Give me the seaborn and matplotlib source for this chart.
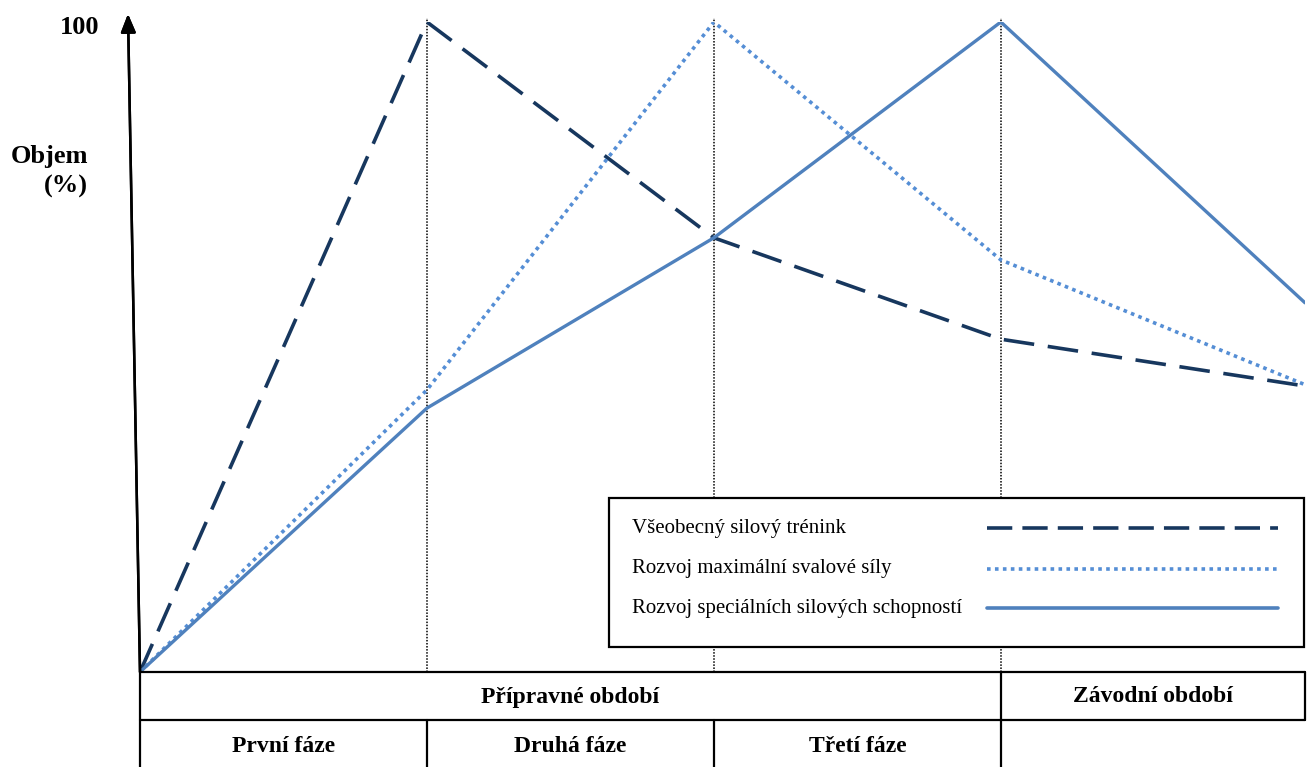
import numpy as np
import pandas as pd
import matplotlib
matplotlib.use("Agg")
import matplotlib.pyplot as plt
from matplotlib.lines import Line2D
from matplotlib.patches import Rectangle
import seaborn as sns

# --- data ---
x_pos = [0, 1, 2, 3, 4.06]
general_strength = [0, 100, 66.8, 51.2, 44.0]
max_strength = [0, 43.4, 100, 63.4, 44.2]
special_strength = [0, 40.6, 66.8, 100, 56.8]

series_names = ["Všeobecný silový trénink",
                "Rozvoj maximální svalové síly",
                "Rozvoj speciálních silových schopností"]
period_labels = ["Přípravné období", "Závodní období"]
period_edges = [0, 3, 4.06]
phase_labels = ["První fáze", "Druhá fáze", "Třetí fáze", ""]
phase_edges = [0, 1, 2, 3, 4.06]

colors = ["#17375E", "#558ED5", "#4F81BD"]

sns.set_style("white")
plt.rcParams["font.family"] = ["Liberation Serif", "DejaVu Serif"]
plt.rcParams["text.color"] = "black"

W, H = 1312, 767
fig = plt.figure(figsize=(W / 100, H / 100), dpi=100)


def fx(px):
    return px / W


def fy(py):
    return 1 - py / H


ax = fig.add_axes([fx(140), fy(672), fx(1305) - fx(140), fy(22) - fy(672)])

df = pd.DataFrame({"x": x_pos, "g": general_strength,
                   "m": max_strength, "s": special_strength})

sns.lineplot(data=df, x="x", y="g", ax=ax, color=colors[0], lw=2.6)
ax.lines[-1].set_dashes((8.5, 3.8))
sns.lineplot(data=df, x="x", y="m", ax=ax, color=colors[1], lw=2.6)
ax.lines[-1].set_dashes((1.0, 1.2))
sns.lineplot(data=df, x="x", y="s", ax=ax, color=colors[2], lw=2.4)
for ln in ax.lines:
    ln.set_dash_capstyle("butt")

ax.set_xlim(0, 4.06)
ax.set_ylim(0, 100)
ax.set_xticks([])
ax.set_yticks([])
ax.set_xlabel("")
ax.set_ylabel("")
for sp in ax.spines.values():
    sp.set_visible(False)

# vertical dotted phase dividers
for xv in phase_edges[1:-1]:
    ax.plot([xv, xv], [0, 100.6], color="black", lw=1.1, ls=(0, (1, 1)),
            clip_on=False, zorder=1)

lw_t = 1.6


def xfig(xv):
    # data x -> figure fraction
    disp = ax.transData.transform((xv, 0))
    return fig.transFigure.inverted().transform(disp)[0]


def hline(x0, x1, py):
    fig.add_artist(Line2D([xfig(x0), xfig(x1)], [fy(py), fy(py)],
                          color="black", lw=lw_t))


def vline(xv, py0, py1):
    fig.add_artist(Line2D([xfig(xv), xfig(xv)], [fy(py0), fy(py1)],
                          color="black", lw=lw_t))


# table under the chart
hline(0, 4.06, 672)
hline(0, 4.06, 720)
vline(0, 672, 767)
vline(4.06, 672, 720)
for xv in period_edges[1:-1]:
    vline(xv, 672, 767)
for xv in phase_edges[1:-2]:
    vline(xv, 720, 767)

for lab, a, b in zip(period_labels, period_edges[:-1], period_edges[1:]):
    fig.text((xfig(a) + xfig(b)) / 2, fy(697), lab, ha="center", va="center",
             fontsize=17, fontweight="bold")
for lab, a, b in zip(phase_labels, phase_edges[:-1], phase_edges[1:]):
    fig.text((xfig(a) + xfig(b)) / 2, fy(746), lab, ha="center", va="center",
             fontsize=17, fontweight="bold")

# y axis arrow (slightly slanted as in the reference)
fig.add_artist(plt.annotate("", xy=(fx(128), fy(14)), xytext=(fx(140), fy(672)),
                            xycoords="figure fraction", textcoords="figure fraction",
                            arrowprops=dict(arrowstyle="-|>,head_length=1.1,head_width=0.45",
                                            color="black", lw=1.8, shrinkA=0, shrinkB=0)))

fig.text(fx(99), fy(27), "100", ha="right", va="center", fontsize=19, fontweight="bold")
fig.text(fx(88), fy(156), "Objem", ha="right", va="center", fontsize=19, fontweight="bold")
fig.text(fx(88), fy(186), "(%)", ha="right", va="center", fontsize=19, fontweight="bold")

# legend box, text on the left and line samples on the right
fig.add_artist(Rectangle((fx(609), fy(647)), fx(1304) - fx(609), fy(498) - fy(647),
                         transform=fig.transFigure, fill=True, facecolor="white",
                         edgecolor="black", lw=1.6, zorder=5))
leg_y = [528, 569, 608]
styles = [dict(lw=2.6, dashes=(7.0, 2.8)), dict(lw=2.6, dashes=(1.0, 1.2)), dict(lw=2.6)]
for name, c, yy, st in zip(series_names, colors, leg_y, styles):
    fig.text(fx(632), fy(yy), name, ha="left", va="center", fontsize=15, zorder=6)
    ln = Line2D([fx(987), fx(1278)], [fy(yy), fy(yy)], color=c, lw=st["lw"], zorder=6)
    if "dashes" in st:
        ln.set_dashes(st["dashes"])
    ln.set_dash_capstyle("butt")
    fig.add_artist(ln)

fig.savefig("out.png", dpi=100)
